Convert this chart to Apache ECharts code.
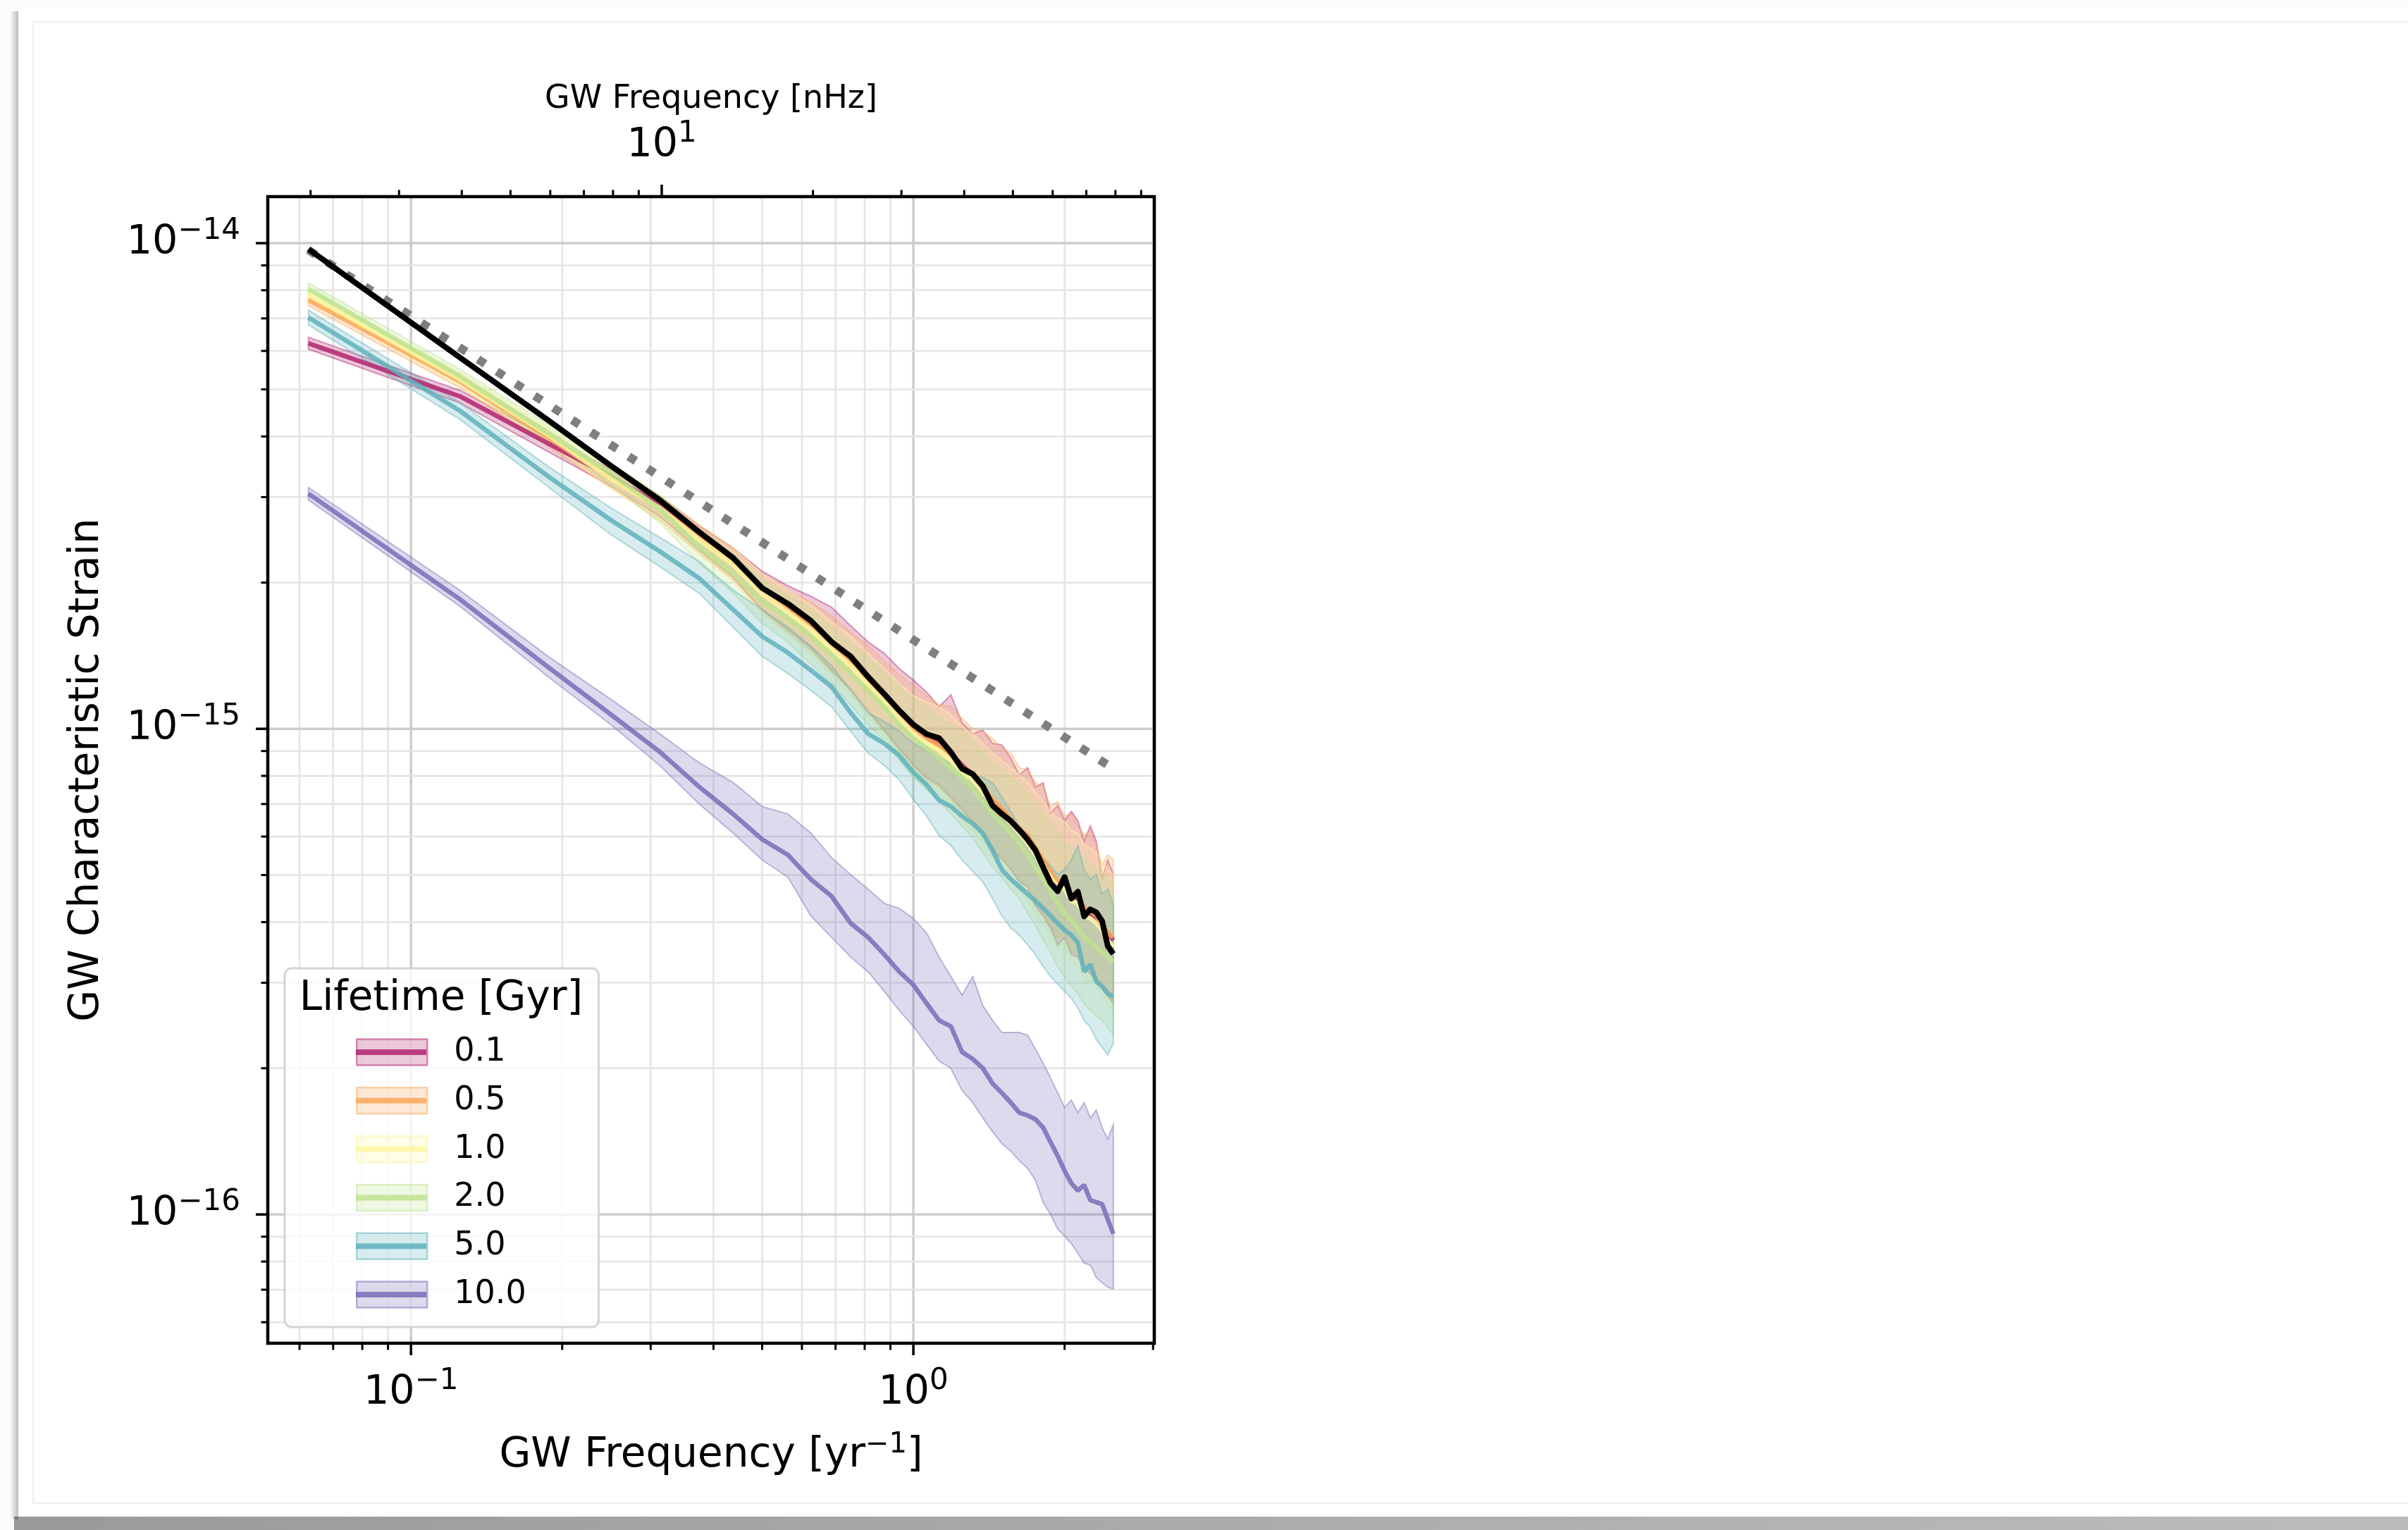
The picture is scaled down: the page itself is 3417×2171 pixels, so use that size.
<!DOCTYPE html>
<html>
<head>
<meta charset="utf-8">
<title>GW characteristic strain vs. GW frequency</title>
<script src="https://cdn.jsdelivr.net/npm/echarts@6/dist/echarts.min.js"></script>
<style>
  html, body { margin: 0; padding: 0; background: #fcfcfc; }
  #chart { width: 3417px; height: 2171px; }
</style>
</head>
<body>
<div id="chart"></div>
<script>
// ---- data -------------------------------------------------------------
// Frequency bins [1/yr]
const FREQ = [0.0625, 0.125, 0.1875, 0.25, 0.3125, 0.375, 0.4375, 0.5, 0.5625, 0.625,
  0.6875, 0.75, 0.8125, 0.875, 0.9375, 1, 1.0625, 1.125, 1.1875, 1.25,
  1.3125, 1.375, 1.4375, 1.5, 1.5625, 1.625, 1.6875, 1.75, 1.8125, 1.875,
  1.9375, 2, 2.0625, 2.125, 2.1875, 2.25, 2.3125, 2.375, 2.4375, 2.5];

// Characteristic strain values below are in units of 1e-16
const STRAIN_EXP = -16;

// Full population
const HC_ALL = [97.2, 58.2, 43.2, 34.8, 29.6, 25.4, 22.5, 19.5, 18.1, 16.7,
  15.1, 14.1, 12.8, 11.8, 10.9, 10.2, 9.75, 9.57, 8.95, 8.28,
  8.07, 7.62, 6.95, 6.68, 6.46, 6.19, 5.92, 5.62, 5.19, 4.81,
  4.63, 4.95, 4.47, 4.62, 4.11, 4.25, 4.19, 4.02, 3.57, 3.44];

// Power-law reference (end points of the straight line in log-log)
const PL_FREQ = [0.0625, 2.5];
const PL_HC = [96.8, 8.28];

// Lifetime 0.1 Gyr
const HC_T01_MED = [62.2, 48.4, 38.7, 33.1, 29.0, 24.9, 22.2, 19.3, 17.8, 16.5,
  15.0, 13.9, 12.6, 11.7, 10.8, 10.1, 9.66, 9.33, 8.91, 8.41,
  8.04, 7.50, 7.08, 6.79, 6.46, 6.17, 6.03, 5.56, 5.31, 5.01,
  4.68, 4.84, 4.52, 4.47, 4.27, 4.17, 4.07, 3.89, 3.80, 3.67];
const HC_T01_HI = [64.0, 49.8, 39.9, 34.3, 30.2, 26.2, 23.6, 21.1, 19.7, 18.75,
  17.8, 16.3, 15.1, 14.3, 13.3, 12.6, 11.9, 11.1, 11.75, 10.3,
  9.77, 9.93, 9.33, 9.27, 8.71, 8.02, 8.32, 7.59, 7.74, 6.70,
  6.95, 6.47, 6.76, 6.47, 5.87, 6.31, 5.87, 4.92, 5.37, 5.01];
const HC_T01_LO = [60.5, 46.9, 37.2, 31.6, 27.4, 23.3, 20.5, 17.6, 16.0, 14.7,
  13.2, 12.1, 10.9, 9.95, 9.12, 8.43, 7.94, 7.67, 7.24, 6.84,
  6.46, 6.03, 5.62, 5.40, 5.13, 4.84, 4.73, 4.32, 4.12, 3.89,
  3.59, 3.72, 3.43, 3.39, 3.24, 3.13, 3.05, 2.92, 2.82, 2.72];

// Lifetime 0.5 Gyr
const HC_T05_MED = [76.4, 52.0, 39.8, 32.7, 28.5, 24.7, 22.0, 19.2, 17.6, 16.3,
  14.9, 13.7, 12.6, 11.6, 10.7, 10.05, 9.55, 9.23, 8.81, 8.32,
  8.04, 7.59, 7.16, 6.84, 6.53, 6.24, 6.03, 5.69, 5.37, 5.07,
  4.84, 4.90, 4.57, 4.52, 4.27, 4.22, 4.12, 3.98, 3.80, 3.72];
const HC_T05_HI = [78.5, 53.5, 41.1, 33.9, 29.9, 26.0, 23.4, 20.8, 19.3, 18.2,
  17.1, 15.8, 14.8, 13.8, 12.9, 12.3, 11.7, 11.2, 11.1, 10.5,
  10.0, 9.89, 9.55, 9.12, 8.91, 8.32, 8.22, 7.76, 7.59, 6.92,
  7.08, 6.61, 6.68, 6.31, 6.03, 6.17, 5.75, 5.25, 5.50, 5.37];
const HC_T05_LO = [74.3, 50.4, 38.2, 31.3, 26.9, 23.0, 20.3, 17.5, 15.8, 14.5,
  13.1, 12.0, 10.8, 9.89, 9.02, 8.36, 7.85, 7.59, 7.16, 6.76,
  6.46, 6.10, 5.69, 5.43, 5.19, 4.90, 4.73, 4.42, 4.17, 3.94,
  3.72, 3.76, 3.47, 3.43, 3.24, 3.16, 3.09, 2.99, 2.82, 2.75];

// Lifetime 1.0 Gyr
const HC_T10_MED = [78.3, 52.5, 40.3, 32.7, 28.5, 24.5, 21.8, 19.0, 17.4, 16.0,
  14.6, 13.5, 12.3, 11.35, 10.5, 9.77, 9.33, 9.02, 8.61, 8.13,
  7.85, 7.41, 7.00, 6.68, 6.38, 6.10, 5.82, 5.50, 5.25, 4.95,
  4.73, 4.68, 4.42, 4.37, 4.12, 4.07, 3.98, 3.85, 3.67, 3.55];
const HC_T10_HI = [80.5, 54.2, 41.9, 34.4, 30.3, 26.4, 23.7, 20.8, 19.3, 18.0,
  16.6, 15.5, 14.3, 13.3, 12.4, 11.7, 11.35, 11.1, 10.7, 10.1,
  9.77, 9.33, 8.91, 8.61, 8.32, 8.04, 7.76, 7.41, 7.08, 6.76,
  6.53, 6.46, 6.17, 6.10, 5.75, 5.69, 5.56, 5.37, 5.13, 5.01];
const HC_T10_LO = [76.2, 50.8, 38.7, 31.3, 26.9, 22.9, 20.1, 17.3, 15.7, 14.3,
  12.9, 11.7, 10.6, 9.66, 8.81, 8.13, 7.67, 7.33, 6.92, 6.46,
  6.17, 5.82, 5.43, 5.19, 4.90, 4.68, 4.42, 4.17, 3.98, 3.72,
  3.55, 3.51, 3.31, 3.24, 3.05, 3.02, 2.95, 2.85, 2.72, 2.63];

// Lifetime 2.0 Gyr
const HC_T20_MED = [80.5, 53.2, 40.6, 33.5, 28.4, 23.7, 20.9, 18.3, 16.9, 15.5,
  14.2, 13.0, 12.0, 11.1, 10.2, 9.55, 9.12, 8.71, 8.32, 7.94,
  7.55, 7.08, 6.68, 6.38, 6.10, 5.82, 5.50, 5.19, 4.90, 4.62,
  4.37, 4.17, 4.03, 3.89, 3.72, 3.63, 3.55, 3.47, 3.39, 3.31];
const HC_T20_HI = [82.8, 55.0, 42.4, 35.2, 30.3, 25.7, 22.9, 20.2, 18.8, 17.6,
  16.2, 15.1, 14.0, 13.0, 12.2, 11.5, 11.0, 10.6, 10.2, 9.89,
  9.44, 8.91, 8.51, 8.22, 7.94, 7.67, 7.33, 7.00, 6.68, 6.38,
  6.10, 5.82, 5.69, 5.56, 5.37, 5.25, 5.13, 5.01, 4.90, 4.79];
const HC_T20_LO = [78.3, 51.5, 38.9, 31.8, 26.6, 21.9, 19.05, 16.5, 15.1, 13.6,
  12.4, 11.2, 10.2, 9.44, 8.61, 7.94, 7.50, 7.08, 6.68, 6.31,
  5.96, 5.56, 5.19, 4.95, 4.68, 4.47, 4.17, 3.94, 3.67, 3.47,
  3.24, 3.09, 2.95, 2.85, 2.72, 2.63, 2.57, 2.51, 2.43, 2.34];

// Lifetime 5.0 Gyr
const HC_T50_MED = [70.3, 45.2, 33.1, 26.9, 23.2, 20.4, 17.6, 15.5, 14.35, 13.2,
  12.2, 10.8, 9.77, 9.33, 8.81, 8.13, 7.67, 7.13, 6.92, 6.61,
  6.38, 6.10, 5.62, 5.13, 4.90, 4.73, 4.57, 4.42, 4.27, 4.12,
  3.98, 3.85, 3.76, 3.63, 3.16, 3.27, 3.02, 2.95, 2.85, 2.81];
const HC_T50_HI = [72.8, 47.0, 34.7, 28.5, 24.8, 22.1, 19.3, 17.6, 16.2, 14.8,
  13.5, 12.0, 10.8, 10.35, 9.89, 9.33, 9.02, 8.71, 8.51, 8.22,
  8.04, 7.94, 7.74, 7.24, 6.76, 6.31, 6.03, 5.62, 5.43, 5.22,
  5.01, 5.13, 5.37, 5.74, 5.13, 4.90, 5.01, 4.57, 4.68, 4.34];
const HC_T50_LO = [67.9, 43.4, 31.5, 25.1, 21.6, 19.0, 16.2, 14.1, 13.0, 12.0,
  11.1, 9.89, 8.91, 8.41, 7.85, 7.16, 6.61, 6.03, 5.75, 5.37,
  5.09, 4.84, 4.47, 4.12, 3.89, 3.76, 3.59, 3.43, 3.24, 3.09,
  2.98, 2.88, 2.79, 2.66, 2.51, 2.43, 2.29, 2.21, 2.13, 2.25];

// Lifetime 10.0 Gyr
const HC_T100_MED = [30.5, 18.5, 13.4, 10.7, 8.97, 7.59, 6.68, 5.92, 5.50, 4.90,
  4.52, 3.98, 3.72, 3.43, 3.16, 2.97, 2.72, 2.51, 2.44, 2.16,
  2.09, 2.00, 1.86, 1.78, 1.70, 1.62, 1.60, 1.57, 1.51, 1.41,
  1.32, 1.23, 1.16, 1.12, 1.15, 1.07, 1.06, 1.05, 0.977, 0.912];
const HC_T100_HI = [31.4, 19.3, 14.1, 11.5, 9.77, 8.51, 7.76, 6.92, 6.68, 6.10,
  5.43, 5.01, 4.68, 4.37, 4.27, 4.07, 3.80, 3.39, 3.09, 2.83,
  3.09, 2.69, 2.51, 2.37, 2.37, 2.37, 2.34, 2.19, 2.05, 1.91,
  1.78, 1.66, 1.72, 1.62, 1.70, 1.58, 1.64, 1.51, 1.43, 1.53];
const HC_T100_LO = [29.6, 17.9, 12.8, 10.2, 8.41, 7.00, 6.10, 5.37, 4.95, 4.12,
  3.72, 3.39, 3.16, 2.88, 2.63, 2.44, 2.24, 2.07, 2.00, 1.80,
  1.70, 1.58, 1.48, 1.40, 1.35, 1.29, 1.245, 1.175, 1.06, 1.00,
  0.933, 0.902, 0.871, 0.832, 0.794, 0.787, 0.741, 0.724, 0.708, 0.703];

const LIFETIMES = ['0.1', '0.5', '1.0', '2.0', '5.0', '10.0'];
const LIFETIME_COLORS = ['#b4236e', '#fba85a', '#fdf7a0', '#bde38f', '#5fb2bd', '#7a6cb8'];

// ---- axes -------------------------------------------------------------
const X_MIN = 0.05188, X_MAX = 3.017;          // 1/yr
const Y_MIN = 0.543, Y_MAX = 124.7;            // 1e-16
const NHZ_PER_INV_YR = 31.688;                 // 1/yr expressed in nHz
const X_MAJOR = [0.1, 1];
const X_MINOR = [0.06, 0.07, 0.08, 0.09, 0.2, 0.3, 0.4, 0.5, 0.6, 0.7, 0.8, 0.9, 2, 3];
const Y_MAJOR = [1, 10, 100];
const Y_MINOR = [0.6, 0.7, 0.8, 0.9, 2, 3, 4, 5, 6, 7, 8, 9, 20, 30, 40, 50, 60, 70, 80, 90];
const TOP_MAJOR = [10];
const TOP_MINOR = [2, 3, 4, 5, 6, 7, 8, 9, 20, 30, 40, 50, 60, 70, 80, 90];

const FONT = 'DejaVu Sans';
const GRID_MAJOR = '#cdcdcd';
const GRID_MINOR = '#e4e4e4';

function rgba(hex, a) {
  const n = parseInt(hex.slice(1), 16);
  return 'rgba(' + ((n >> 16) & 255) + ',' + ((n >> 8) & 255) + ',' + (n & 255) + ',' + a + ')';
}

function powerLabel(offset) {
  return function (v) {
    const lg = Math.log10(v);
    const e = Math.round(lg);
    if (!isFinite(lg) || Math.abs(lg - e) > 1e-6) return '';
    const p = e + offset;
    return '{b|10}{s|' + (p < 0 ? '\u2212' + (-p) : String(p)) + '}';
  };
}
const TICK_RICH = {
  b: { fontFamily: FONT, fontSize: 57, lineHeight: 76, color: '#000' },
  s: { fontFamily: FONT, fontSize: 42, lineHeight: 42, verticalAlign: 'top', color: '#000' }
};

// ---- custom renderers -------------------------------------------------
function xGridItem(params, api) {
  const cs = params.coordSys;
  const x = api.coord([api.value(0), Y_MIN])[0];
  const major = api.value(2) > 0;
  const bottom = cs.y + cs.height;
  return { type: 'group', children: [
    { type: 'line', shape: { x1: x, y1: cs.y, x2: x, y2: bottom },
      style: { stroke: major ? GRID_MAJOR : GRID_MINOR, lineWidth: major ? 3.5 : 2.5 } },
    { type: 'line', shape: { x1: x, y1: bottom, x2: x, y2: bottom + (major ? 17 : 9.5) },
      style: { stroke: '#000', lineWidth: major ? 3.5 : 3 } }
  ] };
}
function yGridItem(params, api) {
  const cs = params.coordSys;
  const y = api.coord([X_MIN, api.value(1)])[1];
  const major = api.value(2) > 0;
  return { type: 'group', children: [
    { type: 'line', shape: { x1: cs.x, y1: y, x2: cs.x + cs.width, y2: y },
      style: { stroke: major ? GRID_MAJOR : GRID_MINOR, lineWidth: major ? 3.5 : 2.5 } },
    { type: 'line', shape: { x1: cs.x, y1: y, x2: cs.x - (major ? 17 : 9.5), y2: y },
      style: { stroke: '#000', lineWidth: major ? 3.5 : 3 } }
  ] };
}
function topTickItem(params, api) {
  const cs = params.coordSys;
  const x = api.coord([api.value(0), Y_MIN])[0];
  const major = api.value(2) > 0;
  return { type: 'line', shape: { x1: x, y1: cs.y, x2: x, y2: cs.y - (major ? 17 : 9.5) },
    style: { stroke: '#000', lineWidth: major ? 3.5 : 3 } };
}
function frameItem(params) {
  const cs = params.coordSys;
  return { type: 'rect', shape: { x: cs.x, y: cs.y, width: cs.width, height: cs.height },
    style: { fill: 'none', stroke: '#000', lineWidth: 4.5 } };
}
function bandRenderer(fill, edge) {
  return function (params, api) {
    if (params.dataIndexInside !== 0) return null;
    const n = params.dataInsideLength;
    const upper = [], lower = [];
    for (let i = 0; i < n; i++) {
      const f = api.value(0, i);
      upper.push(api.coord([f, api.value(2, i)]));
      lower.push(api.coord([f, api.value(1, i)]));
    }
    return { type: 'polygon', shape: { points: upper.concat(lower.reverse()) },
      style: { fill: fill, stroke: edge, lineWidth: 2 } };
  };
}

// ---- series -----------------------------------------------------------
const BANDS = [
  { med: HC_T01_MED, lo: HC_T01_LO, hi: HC_T01_HI },
  { med: HC_T05_MED, lo: HC_T05_LO, hi: HC_T05_HI },
  { med: HC_T10_MED, lo: HC_T10_LO, hi: HC_T10_HI },
  { med: HC_T20_MED, lo: HC_T20_LO, hi: HC_T20_HI },
  { med: HC_T50_MED, lo: HC_T50_LO, hi: HC_T50_HI },
  { med: HC_T100_MED, lo: HC_T100_LO, hi: HC_T100_HI }
].map((b, i) => Object.assign(b, { name: LIFETIMES[i], color: LIFETIME_COLORS[i] }));

const series = [
  { type: 'custom', name: 'x grid', xAxisIndex: 0, yAxisIndex: 0, z: 1, silent: true, clip: false,
    encode: { x: 0, y: 1 }, renderItem: xGridItem,
    data: X_MAJOR.map(v => [v, Y_MIN, 1]).concat(X_MINOR.map(v => [v, Y_MIN, 0])) },
  { type: 'custom', name: 'y grid', xAxisIndex: 0, yAxisIndex: 0, z: 1, silent: true, clip: false,
    encode: { x: 0, y: 1 }, renderItem: yGridItem,
    data: Y_MAJOR.map(v => [X_MIN, v, 1]).concat(Y_MINOR.map(v => [X_MIN, v, 0])) },
  { type: 'custom', name: 'nHz ticks', xAxisIndex: 1, yAxisIndex: 0, z: 1, silent: true, clip: false,
    encode: { x: 0, y: 1 }, renderItem: topTickItem,
    data: TOP_MAJOR.map(v => [v, Y_MIN, 1]).concat(TOP_MINOR.map(v => [v, Y_MIN, 0])) }
];

BANDS.forEach(b => {
  series.push({
    type: 'custom', name: b.name, xAxisIndex: 0, yAxisIndex: 0, z: 2, silent: true, clip: true,
    encode: { x: 0, y: [1, 2] },
    renderItem: bandRenderer(rgba(b.color, 0.25), rgba(b.color, 0.45)),
    itemStyle: { color: b.color },
    data: FREQ.map((f, i) => [f, b.lo[i], b.hi[i]])
  });
  series.push({
    type: 'line', name: b.name, xAxisIndex: 0, yAxisIndex: 0, z: 2, silent: true,
    showSymbol: false, symbol: 'none', emphasis: { disabled: true },
    lineStyle: { color: rgba(b.color, 0.85), width: 6.5 },
    itemStyle: { color: b.color },
    data: FREQ.map((f, i) => [f, b.med[i]])
  });
});

series.push({
  type: 'line', name: 'power law', xAxisIndex: 0, yAxisIndex: 0, z: 3, silent: true,
  showSymbol: false, symbol: 'none', emphasis: { disabled: true },
  lineStyle: { color: '#7f7f7f', width: 12, type: [12, 19.8], cap: 'butt' },
  data: PL_FREQ.map((f, i) => [f, PL_HC[i]])
});
series.push({
  type: 'line', name: 'all', xAxisIndex: 0, yAxisIndex: 0, z: 3, silent: true,
  showSymbol: false, symbol: 'none', emphasis: { disabled: true },
  lineStyle: { color: '#000', width: 8, join: 'round' },
  data: FREQ.map((f, i) => [f, HC_ALL[i]])
});
series.push({
  type: 'custom', name: 'frame', xAxisIndex: 0, yAxisIndex: 0, z: 10, silent: true, clip: false,
  encode: { x: 0, y: 1 }, renderItem: frameItem, data: [[X_MIN, Y_MIN]]
});

const hiddenAxisParts = {
  axisLine: { show: false }, axisTick: { show: false },
  splitLine: { show: false }, minorTick: { show: false }, minorSplitLine: { show: false }
};

const legendCommon = {
  orient: 'vertical', left: 404, top: 1374, padding: [89, 103, 16, 101],
  itemWidth: 100, itemGap: 8.8, selectedMode: false
};

const option = {
  animation: false,
  backgroundColor: '#fcfcfc',
  graphic: [
    { type: 'rect', z: -20, silent: true, shape: { x: 20, y: 2152, width: 3397, height: 19 },
      style: { fill: new echarts.graphic.LinearGradient(0, 0, 1, 0,
        [{ offset: 0, color: '#9a9a9a' }, { offset: 1, color: '#bcbcbc' }]) } },
    { type: 'rect', z: -20, silent: true, shape: { x: 14, y: 16, width: 12, height: 2140 },
      style: { fill: new echarts.graphic.LinearGradient(0, 0, 1, 0,
        [{ offset: 0, color: 'rgba(0,0,0,0)' }, { offset: 1, color: 'rgba(0,0,0,0.26)' }]) } },
    { type: 'rect', z: -19, silent: true, shape: { x: 26, y: 10, width: 3391, height: 2142 },
      style: { fill: '#ffffff' } },
    { type: 'rect', z: -18, silent: true, shape: { x: 47, y: 31, width: 3400, height: 2102 },
      style: { fill: 'none', stroke: '#eeeeee', lineWidth: 2 } }
  ],
  title: [{
    text: 'Lifetime [Gyr]', left: 626, top: 1389, padding: 0, z: 10,
    textAlign: 'center', textVerticalAlign: 'top',
    textStyle: { fontFamily: FONT, fontSize: 58, fontWeight: 'normal', color: '#000', lineHeight: 58 }
  }],
  legend: [
    Object.assign({}, legendCommon, {
      id: 'bands', itemHeight: 37, z: 4,
      backgroundColor: 'rgba(255,255,255,0.8)', borderColor: '#d4d4d4', borderWidth: 3, borderRadius: 10,
      textStyle: { fontFamily: FONT, fontSize: 46, lineHeight: 60, color: '#000', padding: [0, 0, 0, 33] },
      data: BANDS.map(b => ({ name: b.name, icon: 'rect',
        itemStyle: { color: rgba(b.color, 0.25), borderColor: rgba(b.color, 0.5), borderWidth: 2.5 } }))
    }),
    Object.assign({}, legendCommon, {
      id: 'lines', itemHeight: 8, z: 5,
      textStyle: { fontFamily: FONT, fontSize: 46, lineHeight: 60, color: 'rgba(0,0,0,0)', padding: [0, 0, 0, 33] },
      data: BANDS.map(b => ({ name: b.name, icon: 'rect',
        itemStyle: { color: rgba(b.color, 0.85), borderWidth: 0 } }))
    })
  ],
  grid: { left: 380, top: 279, width: 1258, height: 1627, outerBoundsMode: 'none' },
  xAxis: [
    Object.assign({
      type: 'log', logBase: 10, min: X_MIN, max: X_MAX, position: 'bottom',
      name: '{a|GW Frequency [yr}{s|\u22121}{a|]}', nameLocation: 'middle', nameGap: 125,
      nameTextStyle: { rich: {
        a: { fontFamily: FONT, fontSize: 58, lineHeight: 70, color: '#000' },
        s: { fontFamily: FONT, fontSize: 40, lineHeight: 40, verticalAlign: 'top', color: '#000' }
      } },
      axisLabel: { formatter: powerLabel(0), margin: 33, rich: TICK_RICH }
    }, hiddenAxisParts),
    Object.assign({
      type: 'log', logBase: 10, min: X_MIN * NHZ_PER_INV_YR, max: X_MAX * NHZ_PER_INV_YR, position: 'top',
      name: 'GW Frequency [nHz]', nameLocation: 'middle', nameGap: 115,
      nameTextStyle: { fontFamily: FONT, fontSize: 46, lineHeight: 46, color: '#000' },
      axisLabel: { formatter: powerLabel(0), margin: 34, rich: TICK_RICH }
    }, hiddenAxisParts)
  ],
  yAxis: [
    Object.assign({
      type: 'log', logBase: 10, min: Y_MIN, max: Y_MAX,
      name: 'GW Characteristic Strain', nameLocation: 'middle', nameGap: 227,
      nameTextStyle: { fontFamily: FONT, fontSize: 58, lineHeight: 58, color: '#000' },
      axisLabel: { formatter: powerLabel(STRAIN_EXP), margin: 39, rich: TICK_RICH }
    }, hiddenAxisParts)
  ],
  series: series
};

const chart = echarts.init(document.getElementById('chart'), null, { renderer: 'canvas', width: 3417, height: 2171, devicePixelRatio: 1 });
chart.setOption(option);
</script>
</body>
</html>
